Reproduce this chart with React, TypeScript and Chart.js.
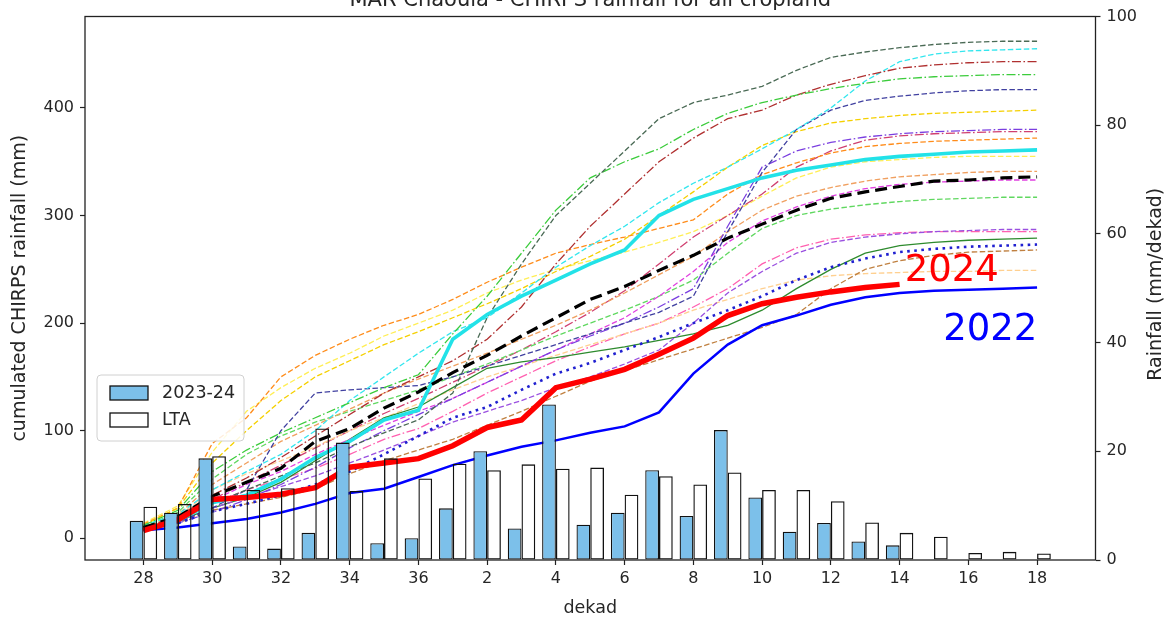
import React, { useEffect, useRef } from 'react';
import { Chart, registerables } from 'chart.js';

Chart.register(...registerables);

// x categories (dekads) — index 0..26
const dekadLabels = ['28', '29', '30', '31', '32', '33', '34', '35', '36', '1', '2', '3', '4', '5', '6', '7', '8', '9', '10', '11', '12', '13', '14', '15', '16', '17', '18'];
const xTickIndexes = [0, 2, 4, 6, 8, 10, 12, 14, 16, 18, 20, 22, 24, 26];
const leftTicks = [0, 100, 200, 300, 400];
const rightTicks = [0, 20, 40, 60, 80, 100];

// dekadal rainfall (right axis, mm/dekad)
const rain2324 = [7.2, 8.7, 18.7, 2.5, 2.1, 5.0, 21.6, 3.1, 4.0, 9.5, 20.0, 5.8, 28.6, 6.5, 8.7, 16.5, 8.1, 23.9, 11.5, 5.2, 6.8, 3.4, 2.7, null, null, null, null];
const rainLTA = [9.8, 10.3, 19.1, 12.9, 13.2, 24.2, 12.7, 18.7, 15.0, 17.7, 16.5, 17.6, 16.8, 17.0, 12.0, 15.4, 13.9, 16.1, 12.9, 12.9, 10.8, 6.9, 5.0, 4.3, 1.3, 1.5, 1.2];

// cumulated rainfall (left axis, mm)
const cum2024 = [7, 17, 36, 38, 41, 47, 66, 70, 74, 86, 103, 110, 140, 148, 157, 171, 186, 207, 218, 224, 229, 233, 236];
const cum2022 = [7.5, 10, 14, 18, 24, 32, 42, 46, 57, 68, 77, 85, 91, 98, 104, 117, 153, 180, 198, 207, 217, 224, 228, 230, 231, 232, 233];
const cumLTA = [10, 20, 39, 52, 65, 90, 102, 121, 136, 154, 170, 188, 205, 222, 234, 249, 263, 279, 292, 305, 316, 322, 327, 332, 333, 335, 336];
const cumCyan = [8, 16, 33, 40, 55, 75, 90, 110, 119, 185, 208, 225, 240, 255, 268, 300, 315, 325, 335, 342, 347, 352, 355, 357, 359, 360, 361];
const cumDotted = [8, 14, 25, 32, 40, 50, 62, 78, 95, 112, 122, 138, 153, 163, 175, 187, 200, 212, 225, 240, 252, 260, 266, 269, 271, 272, 273];

// other seasons (thin lines)
const hist01 = [10, 18, 32, 45, 58, 70, 85, 98, 110, 135, 205, 255, 300, 330, 360, 390, 405, 412, 420, 435, 447, 452, 456, 459, 461, 462, 462];
const hist02 = [12, 26, 62, 82, 98, 112, 126, 140, 152, 190, 225, 265, 305, 335, 350, 362, 380, 395, 405, 412, 418, 423, 427, 429, 430, 431, 431];
const hist03 = [10, 20, 40, 56, 75, 95, 115, 135, 150, 165, 185, 215, 255, 290, 320, 350, 372, 390, 398, 412, 422, 430, 437, 440, 442, 443, 443];
const hist04 = [12, 22, 45, 62, 78, 100, 128, 150, 172, 192, 205, 228, 252, 272, 290, 312, 330, 345, 362, 380, 400, 425, 443, 450, 453, 454, 455];
const hist05 = [8, 15, 28, 45, 100, 135, 138, 140, 142, 150, 160, 170, 180, 190, 200, 210, 225, 285, 340, 380, 398, 407, 411, 414, 416, 417, 417];
const hist06 = [12, 28, 70, 100, 128, 150, 165, 180, 192, 205, 218, 232, 248, 262, 278, 300, 322, 345, 365, 378, 386, 390, 393, 395, 396, 397, 398];
const hist07 = [8, 14, 24, 36, 50, 66, 84, 100, 115, 130, 145, 160, 175, 188, 200, 215, 232, 290, 345, 360, 368, 373, 376, 378, 379, 380, 380];
const hist08 = [13, 28, 88, 112, 150, 170, 185, 198, 208, 222, 238, 252, 265, 273, 280, 288, 296, 320, 338, 349, 358, 364, 367, 369, 370, 371, 372];
const hist09 = [10, 22, 50, 70, 90, 105, 120, 135, 148, 160, 172, 185, 198, 212, 228, 245, 262, 285, 305, 318, 326, 332, 336, 338, 340, 341, 341];
const hist10 = [9, 18, 35, 50, 62, 78, 92, 105, 118, 130, 145, 160, 175, 190, 205, 225, 248, 275, 295, 308, 318, 325, 329, 331, 332, 333, 333];
const hist11 = [11, 24, 55, 78, 95, 108, 118, 128, 138, 150, 162, 175, 188, 200, 212, 225, 240, 265, 288, 300, 306, 310, 313, 315, 316, 317, 317];
const hist12 = [8, 15, 28, 38, 48, 58, 70, 82, 95, 108, 118, 128, 140, 150, 162, 175, 200, 228, 248, 265, 275, 280, 283, 285, 286, 287, 287];
const hist13 = [8, 16, 28, 38, 52, 72, 92, 112, 122, 140, 158, 164, 168, 173, 178, 184, 190, 198, 212, 232, 250, 265, 272, 275, 277, 278, 279];
const hist14 = [8, 14, 26, 32, 38, 46, 60, 72, 82, 92, 105, 118, 132, 146, 156, 166, 176, 186, 196, 208, 232, 250, 258, 263, 266, 267, 268];
const hist15 = [10, 20, 45, 60, 72, 85, 100, 112, 125, 138, 150, 160, 170, 180, 190, 200, 212, 222, 232, 240, 244, 246, 247, 248, 248, 249, 249];
const hist16 = [9, 17, 32, 45, 55, 65, 78, 92, 102, 118, 135, 150, 165, 178, 190, 200, 215, 232, 255, 270, 278, 282, 284, 285, 285, 285, 285];
const hist17 = [9, 18, 36, 52, 68, 84, 100, 116, 130, 145, 160, 175, 192, 210, 230, 255, 280, 300, 320, 345, 360, 370, 374, 376, 377, 378, 378];
const hist18 = [14, 30, 80, 118, 140, 158, 172, 188, 200, 212, 228, 240, 250, 258, 266, 275, 285, 300, 318, 335, 345, 350, 352, 354, 355, 355, 355];

const histSeries = [hist01, hist02, hist03, hist04, hist05, hist06, hist07, hist08, hist09, hist10, hist11, hist12, hist13, hist14, hist15, hist16, hist17, hist18];
const histColors = ['#4a6a55', '#3ccc3c', '#b03030', '#33e6ee', '#4040a0', '#f5d000', '#7b3fe0', '#ff8c1a', '#f0a060', '#e040e0', '#60d860', '#9a50e0', '#2e8b2e', '#c08040', '#ffd090', '#ff60b0', '#d04070', '#ffee55'];
const histStyles = ['dash', 'dashdot', 'dashdot', 'dash', 'dash', 'dash', 'dashdot', 'dash', 'dash', 'dash', 'dash', 'dash', 'solid', 'dash', 'dash', 'dashdot', 'dashdot', 'dash'];

// text labels placed in data coordinates (x index, y mm)
const yearLabels = [
  { text: '2024', x: 22.15, y: 239, color: '#ff0000' },
  { text: '2022', x: 23.27, y: 184, color: '#0000ff' },
];
const legendLabels = ['2023-24', 'LTA'];

const FONT = 'DejaVu Sans';
const TXT = '#262626';
const BARBLUE = '#7cc0ea';

const toXY = (arr: (number | null)[]) => arr.map((v, i) => ({ x: i, y: v }));

const dashFor = (s: string) => (s === 'dash' ? [5.5, 2.5] : s === 'dashdot' ? [9, 2.5, 1.6, 2.5] : []);

const decorPlugin = {
  id: 'decor',
  afterDatasetsDraw(chart: any) {
    const { ctx, chartArea: ca, scales } = chart;
    ctx.save();
    // year labels
    ctx.font = `37px "${FONT}"`;
    ctx.textAlign = 'left';
    ctx.textBaseline = 'alphabetic';
    yearLabels.forEach((l) => {
      ctx.fillStyle = l.color;
      ctx.fillText(l.text, scales.x.getPixelForValue(l.x), scales.y.getPixelForValue(l.y));
    });
    // frame
    ctx.strokeStyle = '#222';
    ctx.lineWidth = 1.3;
    ctx.strokeRect(ca.left, ca.top, ca.right - ca.left, ca.bottom - ca.top);
    // legend
    const lx = 97, ly = 375, lw = 147, lh = 66;
    ctx.beginPath();
    ctx.roundRect(lx, ly, lw, lh, 4);
    ctx.fillStyle = 'rgba(255,255,255,0.85)';
    ctx.fill();
    ctx.strokeStyle = '#d0d0d0';
    ctx.lineWidth = 1;
    ctx.stroke();
    const fills = [BARBLUE, 'rgba(255,255,255,0)'];
    ctx.font = `17.5px "${FONT}"`;
    ctx.textBaseline = 'middle';
    legendLabels.forEach((t, i) => {
      const py = ly + 11 + i * 27;
      ctx.fillStyle = fills[i];
      ctx.fillRect(110, py, 38, 14);
      ctx.strokeStyle = '#111';
      ctx.lineWidth = 1.3;
      ctx.strokeRect(110, py, 38, 14);
      ctx.fillStyle = TXT;
      ctx.fillText(t, 162, py + 7.5);
    });
    ctx.restore();
  },
  afterDraw(chart: any) {
    const { ctx, chartArea: ca } = chart;
    ctx.save();
    ctx.fillStyle = TXT;
    // title (cut off at the top as in the original)
    ctx.font = `21px "${FONT}"`;
    ctx.textAlign = 'center';
    ctx.textBaseline = 'alphabetic';
    ctx.fillText('MAR Chaouia - CHIRPS rainfall for all cropland', (ca.left + ca.right) / 2, 6);
    // x label
    ctx.font = `17.5px "${FONT}"`;
    ctx.fillText('dekad', (ca.left + ca.right) / 2, 613);
    // y labels
    const cy = (ca.top + ca.bottom) / 2;
    ctx.font = `19px "${FONT}"`;
    ctx.textBaseline = 'middle';
    ctx.save();
    ctx.translate(20, cy);
    ctx.rotate(-Math.PI / 2);
    ctx.fillText('cumulated CHIRPS rainfall (mm)', 0, 0);
    ctx.restore();
    ctx.save();
    ctx.translate(1156, cy - 4);
    ctx.rotate(-Math.PI / 2);
    ctx.fillText('Rainfall (mm/dekad)', 0, 0);
    ctx.restore();
    ctx.restore();
  },
};

const setTicks = (vals: number[]) => (s: any) => {
  s.ticks = vals.map((v) => ({ value: v }));
};

export default function App() {
  const ref = useRef<HTMLCanvasElement | null>(null);

  useEffect(() => {
    if (!ref.current) return;
    Chart.defaults.font.family = FONT;
    Chart.defaults.color = TXT;

    const lineBase = { type: 'line' as const, yAxisID: 'y', pointRadius: 0, tension: 0, fill: false, borderCapStyle: 'butt' as const };

    const histDatasets = histSeries.map((s, i) => ({
      ...lineBase,
      label: `hist${i + 1}`,
      data: toXY(s),
      borderColor: histColors[i],
      borderWidth: 1.3,
      borderDash: dashFor(histStyles[i]),
      order: 10 + i,
    }));

    const datasets: any[] = [
      {
        type: 'bar', label: '2023-24', data: toXY(rain2324), yAxisID: 'yR',
        backgroundColor: BARBLUE, borderColor: '#111', borderWidth: 1.3, borderSkipped: false,
        categoryPercentage: 0.8, barPercentage: 1, order: 0,
      },
      {
        type: 'bar', label: 'LTA', data: toXY(rainLTA), yAxisID: 'yR',
        backgroundColor: 'rgba(255,255,255,0)', borderColor: '#111', borderWidth: 1.3, borderSkipped: false,
        categoryPercentage: 0.8, barPercentage: 1, order: 0,
      },
      { ...lineBase, label: '2024', data: toXY(cum2024), borderColor: '#ff0000', borderWidth: 5.5, order: 1 },
      { ...lineBase, label: '2022', data: toXY(cum2022), borderColor: '#0000ff', borderWidth: 2.5, order: 2 },
      { ...lineBase, label: 'dotted', data: toXY(cumDotted), borderColor: '#2020d0', borderWidth: 2.6, borderDash: [2.6, 4.5], order: 3 },
      { ...lineBase, label: 'LTA cum', data: toXY(cumLTA), borderColor: '#000000', borderWidth: 3.2, borderDash: [12, 6], order: 4 },
      { ...lineBase, label: 'cyan', data: toXY(cumCyan), borderColor: '#22e2e8', borderWidth: 3.6, order: 5 },
      ...histDatasets,
    ];

    const tickFont = { size: 16, family: FONT };
    const gridOpts = { display: true, offset: false, drawOnChartArea: false, drawTicks: true, tickLength: 5, tickColor: '#222', tickWidth: 1.2 };

    const chart = new Chart(ref.current, {
      type: 'bar',
      data: { datasets },
      plugins: [decorPlugin],
      options: {
        animation: false,
        responsive: false,
        devicePixelRatio: 1,
        layout: { padding: { top: 16.5, left: 0, right: 0, bottom: 0 } },
        plugins: { legend: { display: false }, title: { display: false }, tooltip: { enabled: false } },
        scales: {
          x: {
            type: 'linear', min: -1.7, max: 27.7, offset: false,
            afterBuildTicks: setTicks(xTickIndexes),
            ticks: {
              autoSkip: false, maxRotation: 0, padding: 4,
              font: tickFont, color: TXT,
              callback: (v: any) => dekadLabels[v as number] ?? '',
            },
            grid: gridOpts,
            border: { display: false },
            afterFit: (s: any) => { s.height = 59; },
          },
          y: {
            type: 'linear', position: 'left', min: -20.2, max: 485,
            afterBuildTicks: setTicks(leftTicks),
            ticks: { padding: 6, font: tickFont, color: TXT },
            grid: gridOpts,
            border: { display: false },
            afterFit: (s: any) => { s.width = 85; },
          },
          yR: {
            type: 'linear', position: 'right', min: 0, max: 100,
            afterBuildTicks: setTicks(rightTicks),
            ticks: { padding: 6, font: tickFont, color: TXT },
            grid: gridOpts,
            border: { display: false },
            afterFit: (s: any) => { s.width = 69.5; },
          },
        },
      } as any,
    });
    return () => chart.destroy();
  }, []);

  return (
    <div style={{ position: 'absolute', left: 0, top: 0, width: 1165, height: 619, background: '#fff' }}>
      <canvas ref={ref} width={1165} height={619} style={{ display: 'block', width: 1165, height: 619 }} />
    </div>
  );
}
